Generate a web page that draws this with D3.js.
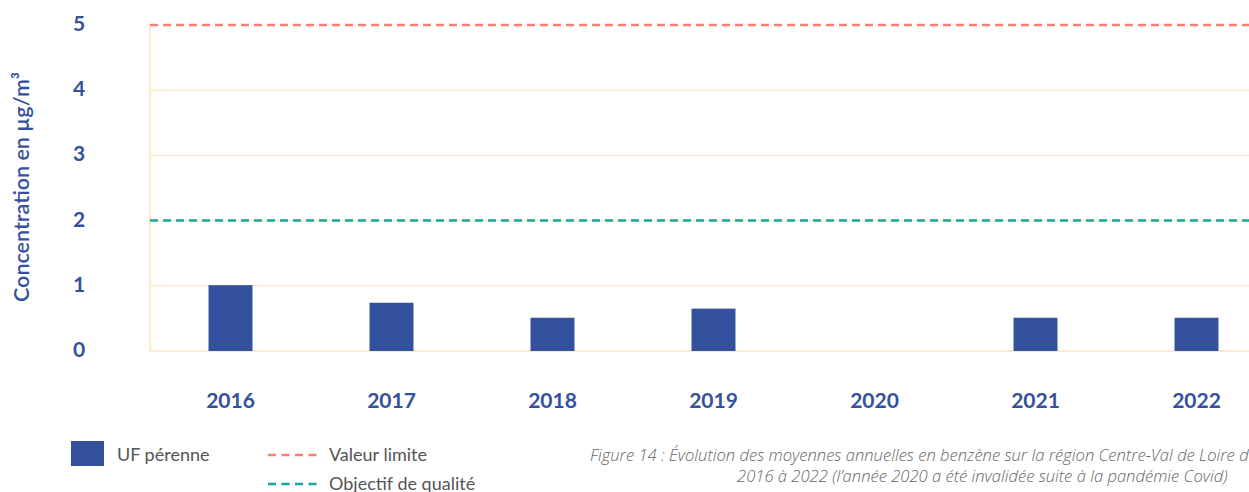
<!DOCTYPE html>
<html>
<head>
<meta charset="utf-8">
<script src="https://cdn.jsdelivr.net/npm/d3@7"></script>
<style>
  body { margin: 0; background: #fff; }
  svg { display: block; }
</style>
</head>
<body>
<svg id="chart" width="1249" height="492"></svg>
<script>
const years = ['2016', '2017', '2018', '2019', '2020', '2021', '2022'];
const ufPerenne = [1.01, 0.74, 0.51, 0.65, null, 0.51, 0.51];
const yTicks = [0, 1, 2, 3, 4, 5];
const valeurLimite = 5;
const objectifQualite = 2;

const blue = '#34519e';
const gridColor = '#fde9cd';
const red = '#f98171';
const teal = '#17a59d';

const svg = d3.select('#chart');

const x = d3.scaleBand().domain(years).range([150, 1277]).paddingInner(0.727).paddingOuter(0.3635);
const y = d3.scaleLinear().domain([0, 5]).range([351, 25]);

// gridlines
svg.append('g')
    .selectAll('line')
    .data(yTicks.filter(d => d > 0 && d < 5))
    .enter().append('line')
    .attr('x1', 150).attr('x2', 1249)
    .attr('y1', d => y(d)).attr('y2', d => y(d))
    .attr('stroke', gridColor).attr('stroke-width', 1.5);

// axis frame lines
svg.append('line')
    .attr('x1', 150).attr('x2', 150).attr('y1', y(5)).attr('y2', y(0))
    .attr('stroke', gridColor).attr('stroke-width', 2);
svg.append('line')
    .attr('x1', 149).attr('x2', 1249).attr('y1', y(0)).attr('y2', y(0))
    .attr('stroke', gridColor).attr('stroke-width', 2);

// bars
svg.append('g')
    .selectAll('rect')
    .data(years.map((yr, i) => ({ yr, v: ufPerenne[i] })).filter(d => d.v != null))
    .enter().append('rect')
    .attr('x', d => x(d.yr))
    .attr('width', x.bandwidth())
    .attr('y', d => y(d.v))
    .attr('height', d => y(0) - y(d.v))
    .attr('fill', blue);

// reference lines
svg.append('line')
    .attr('x1', 150).attr('x2', 1249)
    .attr('y1', y(valeurLimite)).attr('y2', y(valeurLimite))
    .attr('stroke', red).attr('stroke-width', 2.5).attr('stroke-dasharray', '8,5');
svg.append('line')
    .attr('x1', 150).attr('x2', 1249)
    .attr('y1', y(objectifQualite)).attr('y2', y(objectifQualite))
    .attr('stroke', teal).attr('stroke-width', 2.5).attr('stroke-dasharray', '8,5');

// y tick labels
svg.append('g')
    .selectAll('text')
    .data(yTicks)
    .enter().append('text')
    .attr('x', 79)
    .attr('y', d => y(d) + 6)
    .attr('text-anchor', 'middle')
    .attr('font-family', 'Lato, sans-serif')
    .attr('font-weight', 700)
    .attr('font-size', 21)
    .attr('fill', blue)
    .text(d => d);

// x tick labels
svg.append('g')
    .selectAll('text')
    .data(years)
    .enter().append('text')
    .attr('x', d => x(d) + x.bandwidth() / 2)
    .attr('y', 408)
    .attr('text-anchor', 'middle')
    .attr('font-family', 'Lato, sans-serif')
    .attr('font-weight', 700)
    .attr('font-size', 21)
    .attr('fill', blue)
    .text(d => d);

// y axis title
svg.append('text')
    .attr('transform', 'translate(29,187) rotate(-90)')
    .attr('text-anchor', 'middle')
    .attr('font-family', 'Lato, sans-serif')
    .attr('font-weight', 600)
    .attr('font-size', 21.5)
    .attr('fill', blue)
    .text('Concentration en µg/m³');

// legend
const legendFont = 'Lato, sans-serif';
svg.append('rect')
    .attr('x', 71).attr('y', 441).attr('width', 33).attr('height', 25)
    .attr('fill', blue);
svg.append('text')
    .attr('x', 117).attr('y', 461)
    .attr('font-family', legendFont).attr('font-size', 18).attr('fill', '#555')
    .text('UF pérenne');

svg.append('line')
    .attr('x1', 268).attr('x2', 318).attr('y1', 455).attr('y2', 455)
    .attr('stroke', red).attr('stroke-width', 2.5).attr('stroke-dasharray', '8,5.5');
svg.append('text')
    .attr('x', 329).attr('y', 461)
    .attr('font-family', legendFont).attr('font-size', 18).attr('fill', '#555')
    .text('Valeur limite');

svg.append('line')
    .attr('x1', 268).attr('x2', 318).attr('y1', 484).attr('y2', 484)
    .attr('stroke', teal).attr('stroke-width', 2.5).attr('stroke-dasharray', '8,5.5');
svg.append('text')
    .attr('x', 329).attr('y', 490)
    .attr('font-family', legendFont).attr('font-size', 18).attr('fill', '#555')
    .text('Objectif de qualité');

// caption
const caption = [
    { text: 'Figure 14 : Évolution des moyennes annuelles en benzène sur la région Centre-Val de Loire de', x: 590, y: 461 },
    { text: '2016 à 2022 (l’année 2020 a été invalidée suite à la pandémie Covid)', x: 737, y: 482 }
];
svg.append('g')
    .selectAll('text')
    .data(caption)
    .enter().append('text')
    .attr('x', d => d.x)
    .attr('y', d => d.y)
    .attr('font-family', '"Open Sans", sans-serif')
    .attr('font-style', 'italic')
    .attr('font-weight', 300)
    .attr('font-size', 16.6)
    .attr('fill', '#666')
    .text(d => d.text);
</script>
</body>
</html>
